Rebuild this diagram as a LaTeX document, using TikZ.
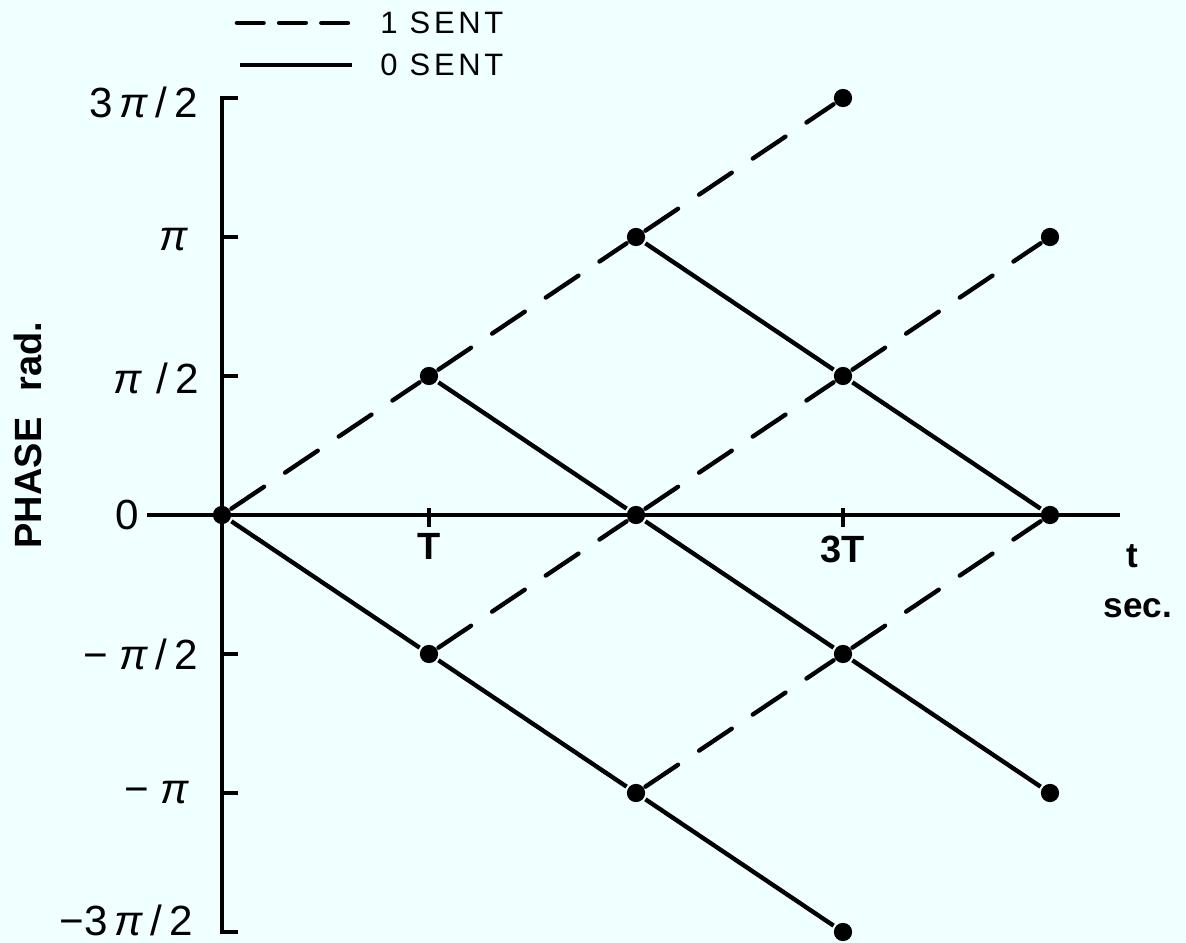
\documentclass[tikz,border=0pt]{standalone}
\usepackage{fontspec}
\setmainfont{Liberation Sans}
\usepackage{xcolor}
\usepackage{tikz}
\definecolor{paper}{HTML}{F0FFFF}
\newcommand{\slpi}{\textit{π}}

\begin{document}
\begin{tikzpicture}[x=5.175cm,y=3.475cm,line width=3.1pt,
  knot/.style={circle,fill=black,inner sep=0pt,minimum size=13pt},
  onesent/.style={line cap=round,dash pattern=on 28pt off 18pt},
  ylab/.style={anchor=east,inner sep=0pt,font=\fontsize{30}{33}\selectfont},
  tlab/.style={inner sep=0pt,font=\bfseries\fontsize{27}{30}\selectfont},
  key/.style={anchor=west,inner sep=0pt,font=\addfontfeature{LetterSpace=12}\fontsize{22}{26}\selectfont}]
%底色
\fill[paper] (-1.0725,-3.079) rectangle (4.657,3.705);
\useasboundingbox (-1.0725,-3.079) rectangle (4.657,3.705);

%图例
\coordinate (k1a) at (0.072,3.54);
\coordinate (k1b) at (0.628,3.54);
\coordinate (k0a) at (0.087,3.237);
\coordinate (k0b) at (0.628,3.237);
\node[key] (k1) at (0.754,3.54) {1 SENT};
\node[key] (k0) at (0.754,3.237) {0 SENT};
\draw[line cap=round,dash pattern=on 19pt off 11pt] (k1a)--(k1b);
\draw (k0a)--(k0b);

%坐标轴
\coordinate (xl) at (-0.362,0);
\coordinate (xr) at (4.338,0);
\draw (0.075,3)--(0,3)--(0,-3)--(0.075,-3);
\draw (xl)--(xr);
\draw (0,2)--(0.075,2);
\draw (0,1)--(0.075,1);
\draw (0,-1)--(0.075,-1);
\draw (0,-2)--(0.075,-2);
\draw[line width=2.2pt] (1,0.05)--(1,-0.086);
\draw[line width=2.2pt] (3,0.05)--(3,-0.086);

%纵轴刻度
\node[ylab] (y3) at (-0.106,2.97) {3\,\slpi\,/\,2};
\node[ylab] (y2) at (-0.150,1.98) {\slpi};
\node[ylab] (y1) at (-0.100,0.98) {\slpi\,\,/\,2};
\node[ylab] (y0) at (-0.390,0) {0};
\node[ylab] (ym1) at (-0.106,-1) {−\ \slpi\,/\,2};
\node[ylab] (ym2) at (-0.145,-2) {−\ \slpi};
\node[ylab] (ym3) at (-0.130,-2.92) {−3\,\slpi\,/\,2};
\node[tlab,rotate=90] (phase) at (-0.937,0.576) {PHASE\hspace{0.7em}rad.};

%横轴刻度
\node[tlab] (tT) at (1,-0.223) {T};
\node[tlab] (t3T) at (3,-0.25) {3T};
\node[tlab,font=\bfseries\fontsize{25}{28}\selectfont] (tt) at (4.396,-0.30) {t};
\node[tlab,font=\bfseries\fontsize{25}{28}\selectfont] (tsec) at (4.425,-0.67) {sec.};

%相位点
\node[knot] (o) at (0,0) {};
\node[knot] (u1) at (1,1) {};
\node[knot] (d1) at (1,-1) {};
\node[knot] (u2) at (2,2) {};
\node[knot] (m2) at (2,0) {};
\node[knot] (d2) at (2,-2) {};
\node[knot] (uu3) at (3,3) {};
\node[knot] (u3) at (3,1) {};
\node[knot] (d3) at (3,-1) {};
\node[knot] (dd3) at (3,-3) {};
\node[knot] (u4) at (4,2) {};
\node[knot] (m4) at (4,0) {};
\node[knot] (d4) at (4,-2) {};

%发送1：相位加 pi/2
\draw[onesent] (o)--(u1);
\draw[onesent] (u1)--(u2);
\draw[onesent] (u2)--(uu3);
\draw[onesent] (d1)--(m2);
\draw[onesent] (m2)--(u3);
\draw[onesent] (u3)--(u4);
\draw[onesent] (d2)--(d3);
\draw[onesent] (d3)--(m4);

%发送0：相位减 pi/2
\draw (o)--(d1);
\draw (d1)--(d2);
\draw (d2)--(dd3);
\draw (u1)--(m2);
\draw (m2)--(d3);
\draw (d3)--(d4);
\draw (u2)--(u3);
\draw (u3)--(m4);
\end{tikzpicture}
\end{document}
